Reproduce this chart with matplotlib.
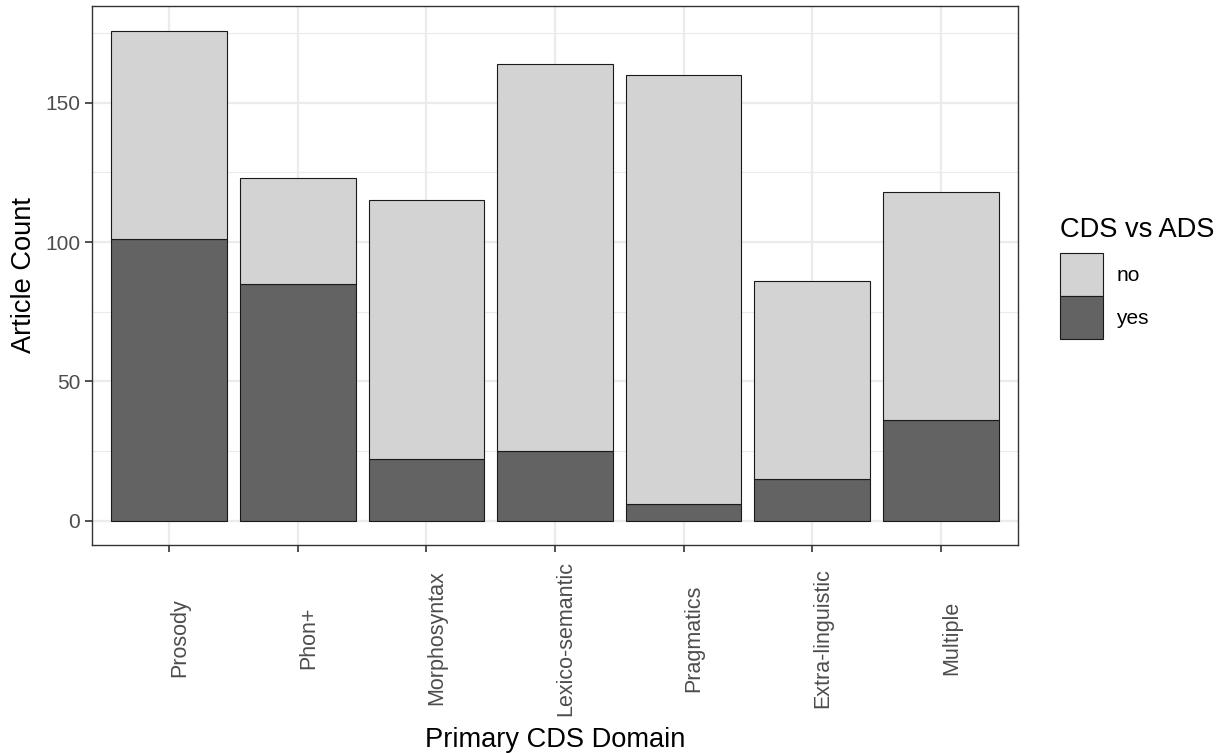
import matplotlib.pyplot as plt
from matplotlib.patches import Patch

# ---- data ----
domains = ["Prosody", "Phon+", "Morphosyntax", "Lexico-semantic",
           "Pragmatics", "Extra-linguistic", "Multiple"]
yes_counts = [101, 85, 22, 25, 6, 15, 36]
no_counts = [75, 38, 93, 139, 154, 71, 82]
legend_labels = ["no", "yes"]

plt.rcParams["font.family"] = ["Liberation Sans", "DejaVu Sans"]

fig = plt.figure(figsize=(12.32, 7.53), dpi=100)
ax = fig.add_axes([92 / 1232, 1 - 545 / 753, (1018 - 92) / 1232, (545 - 6) / 753])

x = list(range(1, len(domains) + 1))
ax.bar(x, yes_counts, width=0.9, color="#636363", edgecolor="#1a1a1a", lw=0.8, zorder=3)
ax.bar(x, no_counts, bottom=yes_counts, width=0.9, color="#d3d3d3",
       edgecolor="#1a1a1a", lw=0.8, zorder=3)

# ==== axes / grid (theme_bw look) ====
top = max(a + b for a, b in zip(yes_counts, no_counts))
ax.set_xlim(0.4, len(domains) + 0.6)
ax.set_ylim(-0.05 * top, top * 1.05)
ax.set_yticks([0, 50, 100, 150])
ax.set_yticks([25, 75, 125, 175], minor=True)
ax.set_xticks(x)
ax.grid(True, which="major", color="#ebebeb", lw=1.6, zorder=0)
ax.grid(True, which="minor", axis="y", color="#ebebeb", lw=0.8, zorder=0)
for s in ax.spines.values():
    s.set_color("#333333")
    s.set_linewidth(1.0)
ax.tick_params(which="major", length=5, width=1.2, color="#333333",
               labelsize=15, labelcolor="#4d4d4d", pad=3.5)
ax.tick_params(axis="x", pad=62, labelsize=15.5)
ax.tick_params(which="minor", length=0)
ax.set_xticklabels(domains, rotation=90, ha="left", va="center")

ax.set_xlabel("Primary CDS Domain", fontsize=19.6, labelpad=8)
ax.set_ylabel("Article Count", fontsize=19.6, labelpad=6)

# ==== legend ====
handles = [Patch(facecolor="#d3d3d3", edgecolor="#1a1a1a", lw=0.8),
           Patch(facecolor="#636363", edgecolor="#1a1a1a", lw=0.8)]
leg = fig.legend(handles, legend_labels, title="CDS vs ADS", loc="upper left",
                 bbox_to_anchor=(1060 / 1232, 1 - 217 / 753), frameon=False,
                 fontsize=15, title_fontsize=19.6, handlelength=2.06,
                 handleheight=2.8, labelspacing=0.0, handletextpad=0.65,
                 borderpad=0, borderaxespad=0)
leg._legend_box.align = "left"
leg._legend_box.sep = 7.5  # gap between title and keys

plt.savefig("out.png", dpi=100)
plt.close()
